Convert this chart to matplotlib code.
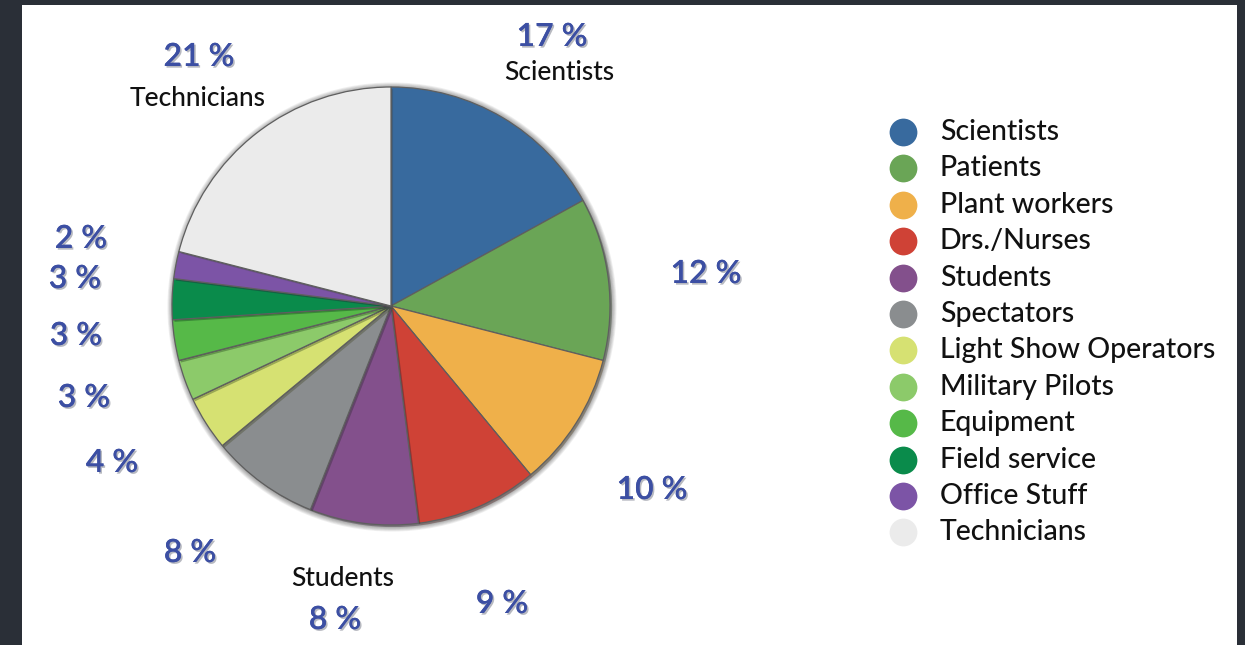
import matplotlib.pyplot as plt
import matplotlib.patheffects as pe
from matplotlib.patches import Circle, Rectangle

# groupes et parts (%)
categorias = ["Scientists", "Patients", "Plant workers", "Drs./Nurses", "Students",
              "Spectators", "Light Show Operators", "Military Pilots", "Equipment",
              "Field service", "Office Stuff", "Technicians"]
valores = [17, 12, 10, 9, 8, 8, 4, 3, 3, 3, 2, 21]
cores = ["#386a9e", "#6aa556", "#efb04a", "#cf4236", "#83508c", "#8a8d8f",
         "#d6e172", "#8cca6a", "#56b948", "#0a8b4b", "#7c54a6", "#ebebeb"]

# posição (px) de cada rótulo de porcentagem
pos_pct = [(552, 37), (706, 274), (652, 490), (502, 604), (335, 620), (190, 553),
           (112, 463), (84, 398), (76, 336), (75, 279), (81, 239), (199, 57)]
# nomes escritos ao lado de algumas fatias
nomes_fatia = {"Scientists": (559, 73), "Students": (343, 578), "Technicians": (198, 98)}

W, H = 1245, 645
CX, CY, R = 391, H - 306, 219
AZUL = "#3c4fa3"
FONTE = "Lato"

fig = plt.figure(figsize=(W / 100, H / 100), dpi=100, facecolor="#2a2f37")
ax = fig.add_axes([0, 0, 1, 1])
ax.set_xlim(0, W)
ax.set_ylim(0, H)
ax.set_aspect("equal")
ax.axis("off")

# painel branco
ax.add_patch(Rectangle((22, 0), 1215, H - 5, facecolor="white", edgecolor="none", zorder=0))

# sombra suave em volta da pizza
for k in range(7, 0, -1):
    ax.add_patch(Circle((CX + 1, CY - 1), R + k * 0.8, facecolor="#000000",
                        alpha=0.06, edgecolor="none", zorder=1))

wedges, _ = ax.pie(valores, colors=cores, startangle=90, counterclock=False,
                   center=(CX, CY), radius=R, frame=True,
                   wedgeprops=dict(edgecolor="#5f5f5f", linewidth=0.9, zorder=2))
for w in wedges:
    w.set_path_effects([pe.SimplePatchShadow(offset=(1.5, -1.5), alpha=0.35), pe.Normal()])
ax.set_xlim(0, W)
ax.set_ylim(0, H)
ax.axis("off")

sombra_txt = [pe.withSimplePatchShadow(offset=(1.2, -1.2), alpha=0.3), pe.Normal()]
for v, (x, y) in zip(valores, pos_pct):
    ax.text(x, H - y, f"{v} %", color=AZUL, fontsize=23, fontfamily=FONTE,
            fontweight="semibold", ha="center", va="center", path_effects=sombra_txt)
for nome, (x, y) in nomes_fatia.items():
    ax.text(x, H - y, nome, color="#111111", fontsize=19, fontfamily=FONTE,
            fontweight="medium", ha="center", va="center")

# legenda manual com marcadores redondos
for i, (nome, cor) in enumerate(zip(categorias, cores)):
    y = H - (132 + i * 36.4)
    ax.plot(903, y, "o", markersize=20, color=cor, markeredgewidth=0)
    ax.text(940, y, nome, color="#111111", fontsize=20.5, fontfamily=FONTE,
            fontweight="medium", ha="left", va="center")

plt.savefig("out.png", dpi=100, facecolor=fig.get_facecolor())
